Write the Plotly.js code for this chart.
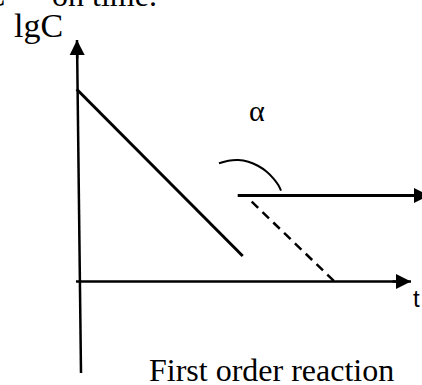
<!DOCTYPE html>
<html>
<head>
<meta charset="utf-8">
<script src="https://cdn.plot.ly/plotly-3.0.1.min.js"></script>
<style>html,body{margin:0;padding:0;background:#fff;}#chart{width:422px;height:385px;}</style>
</head>
<body>
<div id="chart"></div>
<script>
// Schematic units: t (time) and lgC, origin at axis crossing
var axisY_t = [-2, 2];
var axisY_lgC = [241.5, -91.5];
var axisX_t = [-3, 332];
var axisX_lgC = [0, 0];
var line_t = [-2.3, 163.7];
var line_lgC = [192.2, 25.5];
var dash_t = [172.7, 255];
var dash_lgC = [79.8, 0.5];
var horiz_t = [158.7, 350];
var horiz_lgC = [86, 86];
var arc_t = [140, 149.3, 159.3, 169.3, 179.3, 187.7, 194.3, 199.3, 202];
var arc_lgC = [118.2, 120.8, 121.5, 119.8, 115.5, 109.8, 103.2, 96.5, 90.8];
var labels = {yTitle: 'lgC', xTitle: 't', angle: 'α', caption: 'First order reaction', topA: 'C', topB: 'on time.'};

var black = '#000000';
var serif = 'Liberation Serif, Times New Roman, serif';
var sans = 'Liberation Sans, Arial, sans-serif';

function seg(x, y, w, dash) {
  return {x: x, y: y, type: 'scatter', mode: 'lines', hoverinfo: 'skip',
    line: {color: black, width: w, dash: dash || 'solid'}, showlegend: false};
}
var traces = [
  seg(axisY_t, axisY_lgC, 2.5),
  seg(axisX_t, axisX_lgC, 2.5),
  seg(line_t, line_lgC, 3),
  seg(dash_t, dash_lgC, 2.5, '9px,6px'),
  seg(horiz_t, horiz_lgC, 3),
  {x: arc_t, y: arc_lgC, type: 'scatter', mode: 'lines', hoverinfo: 'skip', showlegend: false,
   line: {color: black, width: 2, shape: 'spline'}}
];

function head(xs, ys, tipIdx, backIdx) {
  var tx = xs[tipIdx], ty = ys[tipIdx];
  var bx = xs[backIdx], by = ys[backIdx];
  var dx = bx - tx, dy = by - ty, L = Math.sqrt(dx*dx + dy*dy);
  return {x: tx, y: ty, ax: tx + dx/L*20, ay: ty + dy/L*20, xref: 'x', yref: 'y', axref: 'x', ayref: 'y',
    text: '', showarrow: true, arrowhead: 2, arrowsize: 1.2, arrowwidth: 2.5, arrowcolor: black};
}
function txt(t, x, y, size, family, xanchor, yref) {
  return {text: t, x: x, y: y, xref: 'x', yref: yref || 'y', showarrow: false, xanchor: xanchor || 'center', yanchor: 'middle',
    font: {size: size, family: family, color: black}};
}

var annotations = [
  head(axisY_t, axisY_lgC, 0, 1),
  head(axisX_t, axisX_lgC, 1, 0),
  head(horiz_t, horiz_lgC, 1, 0),
  txt(labels.yTitle, -41, 256, 34, serif),
  txt(labels.angle, 178, 171, 30, serif),
  txt(labels.xTitle, 343, -16.5, 24, sans, 'right'),
  txt(labels.caption, 192, -88, 32, serif),
  txt(labels.topA, -72, 1.012, 32, serif, 'right', 'paper'),
  txt(labels.topB, -29, 1.012, 32, serif, 'left', 'paper')
];

var layout = {
  width: 422, height: 385,
  margin: {l: 0, r: 0, t: 0, b: 0},
  paper_bgcolor: '#ffffff', plot_bgcolor: '#ffffff',
  xaxis: {range: [-79, 343], visible: false, fixedrange: true},
  yaxis: {range: [-103.5, 281.5], visible: false, fixedrange: true},
  annotations: annotations,
  showlegend: false
};
Plotly.newPlot('chart', traces, layout, {displayModeBar: false, staticPlot: true});
</script>
</body>
</html>
